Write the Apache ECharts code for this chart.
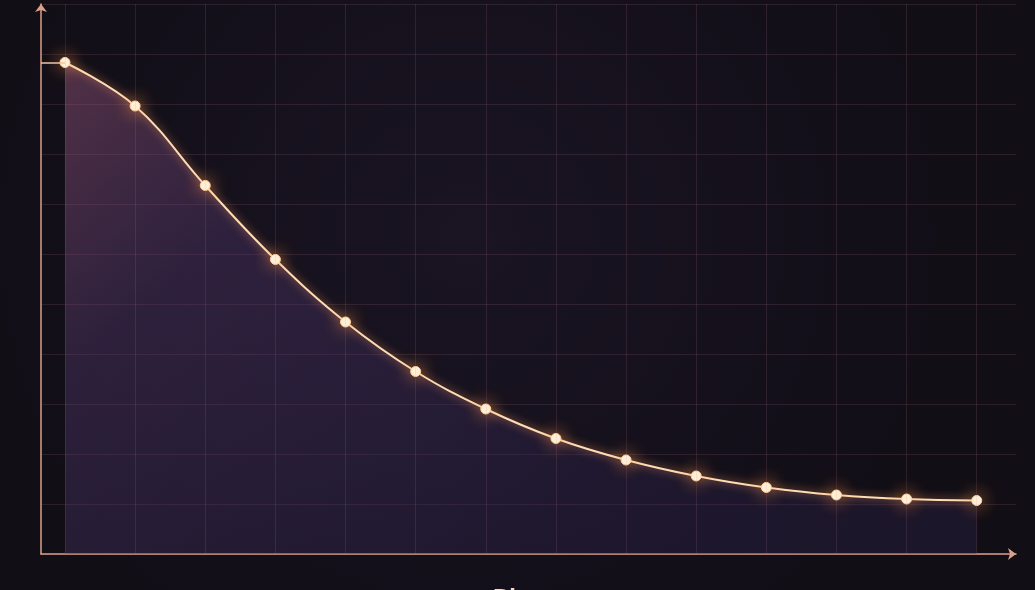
<!DOCTYPE html>
<html>
<head>
<meta charset="utf-8">
<script src="https://cdn.jsdelivr.net/npm/echarts@6/dist/echarts.min.js"></script>
<style>
  html, body { margin: 0; padding: 0; background: #14101b; }
  #chart { width: 1035px; height: 590px; }
</style>
</head>
<body>
<div id="chart"></div>
<script>
// Data
const steps = [0, 1, 2, 3, 4, 5, 6, 7, 8, 9, 10, 11, 12, 13];
const values = [9.83, 8.96, 7.37, 5.89, 4.64, 3.65, 2.90, 2.31, 1.88, 1.56, 1.33, 1.18, 1.10, 1.07];
const xAxisName = 'Phase';

const xMin = -0.342;
const xMax = 13.56;
const yMin = 0;
const yMax = 11;

const axisColor = '#d9a08a';
const gridColor = 'rgba(205,135,155,0.14)';

const chart = echarts.init(document.getElementById('chart'), null, { renderer: 'canvas' });

const option = {
  backgroundColor: {
    type: 'radial', x: 0.45, y: 0.4, r: 0.85,
    colorStops: [
      { offset: 0, color: '#1a1423' },
      { offset: 1, color: '#110e16' }
    ]
  },
  animation: false,
  grid: { left: 41, right: 19, top: 4, bottom: 36, containLabel: false, outerBoundsMode: 'none' },
  xAxis: {
    type: 'value',
    min: xMin,
    max: xMax,
    name: xAxisName,
    nameLocation: 'middle',
    nameGap: 32,
    nameTextStyle: { color: '#f2dcd0', fontSize: 27, fontFamily: 'Lato', fontWeight: 'bold' },
    axisLine: {
      show: true,
      onZero: false,
      symbol: ['none', 'arrow'],
      symbolSize: [9, 8],
      lineStyle: { color: axisColor, width: 1.5 }
    },
    axisTick: { show: false },
    axisLabel: { show: false },
    splitLine: { show: false }
  },
  yAxis: {
    type: 'value',
    min: yMin,
    max: yMax,
    interval: 1,
    axisLine: {
      show: true,
      onZero: false,
      symbol: ['none', 'arrow'],
      symbolSize: [9, 8],
      lineStyle: { color: axisColor, width: 1.5 }
    },
    axisTick: { show: false },
    axisLabel: { show: false },
    splitLine: { show: true, lineStyle: { color: gridColor, width: 1 } }
  },
  series: [
    {
      type: 'line',
      z: 1,
      data: [],
      silent: true,
      markLine: {
        silent: true,
        symbol: ['none', 'none'],
        label: { show: false },
        lineStyle: { color: gridColor, width: 1, type: 'solid' },
        data: steps.map(s => ({ xAxis: s }))
      }
    },
    {
      type: 'line',
      z: 3,
      data: steps.map((s, i) => [s, values[i]]),
      smooth: 0.4,
      symbol: 'circle',
      symbolSize: 10,
      itemStyle: {
        color: '#fff3de',
        borderColor: '#ffd29a',
        borderWidth: 1,
        shadowBlur: 18,
        shadowColor: 'rgba(255,150,70,1)'
      },
      lineStyle: {
        color: '#ffdcb4',
        width: 2,
        shadowBlur: 9,
        shadowColor: 'rgba(255,160,90,0.85)'
      },
      areaStyle: {
        color: {
          type: 'linear', x: 0, y: 0, x2: 0.5, y2: 1,
          colorStops: [
            { offset: 0, color: 'rgba(175,100,140,0.58)' },
            { offset: 0.35, color: 'rgba(92,62,122,0.50)' },
            { offset: 1, color: 'rgba(52,40,88,0.45)' }
          ]
        }
      },
      markLine: {
        silent: true,
        symbol: ['none', 'none'],
        label: { show: false },
        lineStyle: { color: '#f0c2a8', width: 1.5, type: 'solid' },
        data: [
          [ { coord: [xMin, values[0]] }, { coord: [steps[0], values[0]] } ]
        ]
      }
    }
  ]
};

chart.setOption(option);
</script>
</body>
</html>
